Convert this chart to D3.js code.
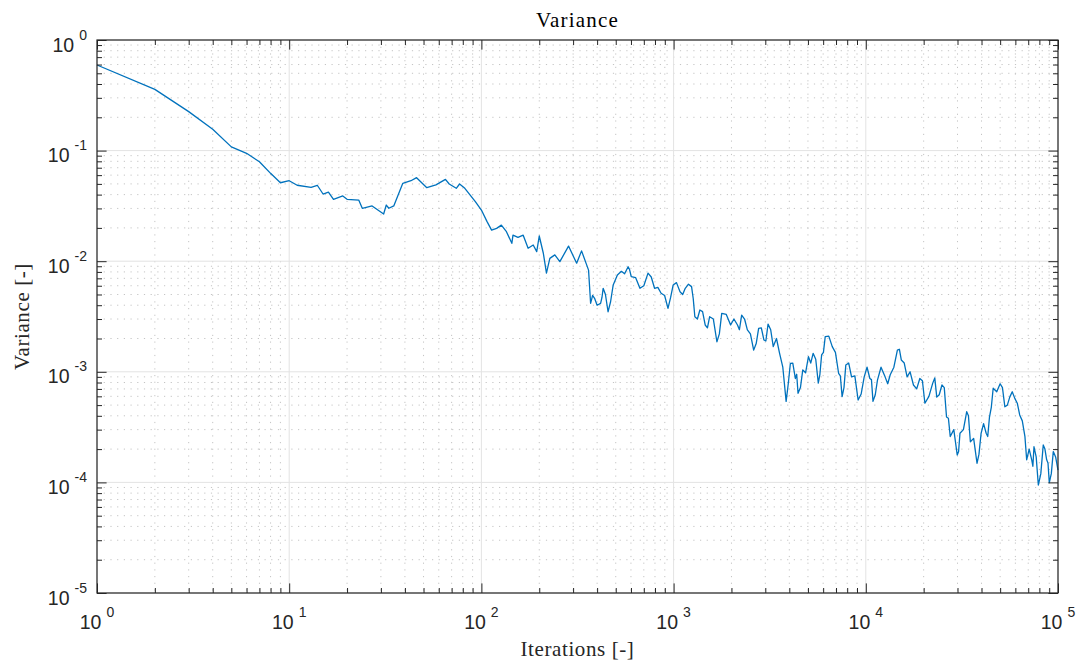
<!DOCTYPE html>
<html>
<head>
<meta charset="utf-8">
<script src="https://cdn.jsdelivr.net/npm/d3@7"></script>
<style>
  body { margin: 0; background: #fff; }
  svg { display: block; }
</style>
</head>
<body>
<div id="chart"></div>
<script>
const iterations = [1,2,3,4,5,6,7,8,9,10,
  11,13,14,15,16,17,19,20,23,24,
  27,31,32,33,35,39,43,46,52,58,
  65,68,74,77,82,93,100,107,113,120,
  127,135,144,146,155,165,175,186,194,200,
  210,218,227,241,256,284,313,332,361,370,
  388,417,430,456,485,535,580,602,668,736,
  796,861,935,995,1080,1150,1240,1290,1370,1460,
  1540,1680,1780,1980,2150,2260,2420,2610,2770,2950,
  3100,3300,3560,3850,4050,4300,4440,4700,5030,5320,
  5660,5890,6150,6690,7220,7530,7870,8430,9120,9810,
  10500,10900,11500,12600,13400,14600,15300,16400,17700,19100,
  20300,22300,23400,24900,26300,27500,29900,30900,33500,35000,
  37900,39800,42300,44000,46000,50000,52900,56100,59600,63200,
  67300,68700,73000,75000,79000,83800,87300,90100,94500,100000];

const variance = [0.594,0.358,0.225,0.156,0.108,0.0945,0.0793,0.0623,0.0512,0.0534,
  0.0486,0.0466,0.0486,0.0405,0.0422,0.0363,0.0389,0.0363,0.0357,0.0301,
  0.0316,0.0267,0.0322,0.0301,0.0316,0.0506,0.0534,0.0569,0.0462,0.049,
  0.055,0.0499,0.0456,0.0499,0.0456,0.0345,0.029,0.0228,0.0191,0.0198,
  0.0212,0.0185,0.0145,0.0172,0.0164,0.0172,0.0131,0.0140,0.0122,0.0169,
  0.0118,0.0078,0.0106,0.0114,0.0099,0.0137,0.0096,0.0124,0.0083,0.00416,
  0.00462,0.00416,0.00569,0.00349,0.0061,0.0081,0.0089,0.00724,0.00569,0.0078,
  0.00569,0.00513,0.00375,0.0061,0.0053,0.00569,0.00589,0.00315,0.00362,0.00265,
  0.00315,0.00187,0.00338,0.00265,0.00265,0.00326,0.00239,0.00157,0.00247,0.00194,
  0.0027,0.00169,0.00147,0.00054,0.00119,0.00087,0.00064,0.00104,0.00137,0.00147,
  0.00079,0.00142,0.00208,0.00169,0.00097,0.000596,0.00115,0.0009,0.000556,0.0009,
  0.00087,0.00054,0.00084,0.0009,0.00094,0.00157,0.00128,0.0009,0.00076,0.00087,
  0.00052,0.00079,0.00059,0.00076,0.00039,0.00026,0.000177,0.000278,0.000436,0.000233,
  0.000149,0.000278,0.000278,0.00039,0.00071,0.00078,0.000483,0.00059,0.000575,0.000407,
  0.000259,0.00016,0.00016,0.00021,0.0000946,0.000218,0.00016,0.0000994,0.00019,0.000129];

// extra readings of the small jags in the noisy tail
const iterationsDetail = [379,400,424,442,470,510,556,590,635,700,
  765,828,898,965,1035,1115,1195,1265,1330,1415,
  1500,1610,1730,1880,2060,2200,2340,2510,2690,2860,
  3020,3200,3430,3700,3950,4170,4370,4570,4860,5170,
  5490,5770,6020,6420,6950,7370,7700,8150,8770,9460,
  10150,10700,11200,12000,13000,14000,14950,15850,17000,18400,
  19700,21300,22850,24100,25600,26900,28700,30400,32200,34200,
  36400,38800,41000,43100,45000,48000,51400,54500,57800,61400,
  65200,70800,74000,77000,81400,85500,88700,92300,97200];
const varianceDetail = [0.0049,0.0040,0.0047,0.0050,0.0043,0.0075,0.0077,0.0084,0.0071,0.0060,
  0.0072,0.0058,0.0049,0.0047,0.0064,0.0050,0.0062,0.0046,0.0030,0.0035,
  0.0025,0.0030,0.0022,0.0033,0.0030,0.0024,0.0030,0.0022,0.0018,0.0025,
  0.0019,0.0024,0.0020,0.0011,0.00078,0.0012,0.00095,0.00072,0.00098,0.0012,
  0.0013,0.00095,0.0015,0.0021,0.0015,0.00092,0.00072,0.0012,0.00092,0.00063,
  0.0011,0.00085,0.00062,0.0011,0.00078,0.0011,0.0016,0.0012,0.0010,0.00070,
  0.00083,0.00060,0.00088,0.00062,0.00072,0.00038,0.00030,0.00019,0.00030,0.00040,
  0.00025,0.00018,0.00034,0.00026,0.00048,0.00066,0.00072,0.00050,0.00066,0.00052,
  0.00036,0.00020,0.00014,0.00017,0.00012,0.00020,0.00015,0.00012,0.00017];

const xTickExps = [0,1,2,3,4,5];
const yTickExps = [-5,-4,-3,-2,-1,0];

const width = 1081, height = 665;
const margin = { top: 40, right: 23, bottom: 72, left: 97 };
const axisColor = '#262626';
const sansFont = '"Liberation Sans", Arial, Helvetica, sans-serif';
const serifFont = '"Liberation Serif", "Times New Roman", serif';

const svg = d3.select('#chart').append('svg')
  .attr('width', width)
  .attr('height', height);

const x = d3.scaleLog().domain([1, 1e5]).range([margin.left, width - margin.right]);
const y = d3.scaleLog().domain([1e-5, 1]).range([height - margin.bottom, margin.top]);
const [x0, x1] = x.range();
const [y0, y1] = y.range();

function minorValues(exps) {
  const out = [];
  for (let i = 0; i < exps.length - 1; i++) {
    for (let k = 2; k <= 9; k++) out.push(k * Math.pow(10, exps[i]));
  }
  return out;
}
const xMinor = minorValues(xTickExps);
const yMinor = minorValues(yTickExps);
const xMajor = xTickExps.map(e => Math.pow(10, e));
const yMajor = yTickExps.map(e => Math.pow(10, e));

// grid
const grid = svg.append('g');
grid.selectAll('.xminor').data(xMinor).enter().append('line')
  .attr('x1', d => x(d)).attr('x2', d => x(d))
  .attr('y1', y1).attr('y2', y0)
  .attr('stroke', '#c4c4c4').attr('stroke-width', 1)
  .attr('stroke-dasharray', '1.2,5.5');
grid.selectAll('.yminor').data(yMinor).enter().append('line')
  .attr('y1', d => y(d)).attr('y2', d => y(d))
  .attr('x1', x0).attr('x2', x1)
  .attr('stroke', '#c4c4c4').attr('stroke-width', 1)
  .attr('stroke-dasharray', '1.2,5.5');
grid.selectAll('.xmajor').data(xMajor).enter().append('line')
  .attr('x1', d => x(d)).attr('x2', d => x(d))
  .attr('y1', y1).attr('y2', y0)
  .attr('stroke', '#e3e3e3').attr('stroke-width', 1);
grid.selectAll('.ymajor').data(yMajor).enter().append('line')
  .attr('y1', d => y(d)).attr('y2', d => y(d))
  .attr('x1', x0).attr('x2', x1)
  .attr('stroke', '#e3e3e3').attr('stroke-width', 1);

// data line
const points = iterations.map((it, i) => [it, variance[i]])
  .concat(iterationsDetail.map((it, i) => [it, varianceDetail[i]]))
  .sort((a, b) => a[0] - b[0]);
const line = d3.line()
  .x(d => x(d[0]))
  .y(d => y(d[1]));
svg.append('path')
  .datum(points)
  .attr('fill', 'none')
  .attr('stroke', '#0072BD')
  .attr('stroke-width', 1.3)
  .attr('stroke-linejoin', 'round')
  .attr('d', line);

// axes, ticks inside on all four sides
const majorLen = 9.6, minorLen = 5;
function boxAxis(axisFn, scale, transform, values, len) {
  svg.append('g')
    .attr('transform', transform)
    .call(axisFn(scale).tickValues(values).tickSize(-len).tickFormat(''))
    .call(g => g.select('.domain').remove())
    .call(g => g.selectAll('.tick line').attr('stroke', axisColor).attr('stroke-width', 1));
}
boxAxis(d3.axisBottom, x, `translate(0,${y0})`, xMajor, majorLen);
boxAxis(d3.axisBottom, x, `translate(0,${y0})`, xMinor, minorLen);
boxAxis(d3.axisTop, x, `translate(0,${y1})`, xMajor, majorLen);
boxAxis(d3.axisTop, x, `translate(0,${y1})`, xMinor, minorLen);
boxAxis(d3.axisLeft, y, `translate(${x0},0)`, yMajor, majorLen);
boxAxis(d3.axisLeft, y, `translate(${x0},0)`, yMinor, minorLen);
boxAxis(d3.axisRight, y, `translate(${x1},0)`, yMajor, majorLen);
boxAxis(d3.axisRight, y, `translate(${x1},0)`, yMinor, minorLen);

svg.append('rect')
  .attr('x', x0).attr('y', y1)
  .attr('width', x1 - x0).attr('height', y0 - y1)
  .attr('fill', 'none')
  .attr('stroke', axisColor)
  .attr('stroke-width', 1.2);

// tick labels 10^n
function powerLabel(g, exp) {
  g.append('tspan').text('10');
  g.append('tspan').attr('dx', 5).attr('dy', -12).attr('font-size', 14).text(exp);
}
svg.append('g').selectAll('text').data(xTickExps).enter().append('text')
  .attr('x', d => x(Math.pow(10, d)))
  .attr('y', y0 + 36)
  .attr('text-anchor', 'middle')
  .attr('font-family', sansFont)
  .attr('font-size', 19.5)
  .attr('fill', axisColor)
  .each(function (d) { powerLabel(d3.select(this), d); });
svg.append('g').selectAll('text').data(yTickExps).enter().append('text')
  .attr('x', x0 - 10)
  .attr('y', d => y(Math.pow(10, d)) + 11.5)
  .attr('text-anchor', 'end')
  .attr('font-family', sansFont)
  .attr('font-size', 19.5)
  .attr('fill', axisColor)
  .each(function (d) { powerLabel(d3.select(this), d); });

// title and axis labels
svg.append('text')
  .attr('x', (x0 + x1) / 2).attr('y', 27)
  .attr('text-anchor', 'middle')
  .attr('font-family', serifFont)
  .attr('font-size', 21)
  .attr('letter-spacing', 1.2)
  .attr('fill', '#000')
  .text('Variance');
svg.append('text')
  .attr('x', (x0 + x1) / 2).attr('y', 656)
  .attr('text-anchor', 'middle')
  .attr('font-family', serifFont)
  .attr('font-size', 21)
  .attr('letter-spacing', 0.6)
  .attr('fill', axisColor)
  .text('Iterations [-]');
svg.append('text')
  .attr('transform', `translate(29,${(y0 + y1) / 2}) rotate(-90)`)
  .attr('text-anchor', 'middle')
  .attr('font-family', serifFont)
  .attr('font-size', 21)
  .attr('letter-spacing', 0.6)
  .attr('fill', axisColor)
  .text('Variance [-]');
</script>
</body>
</html>
